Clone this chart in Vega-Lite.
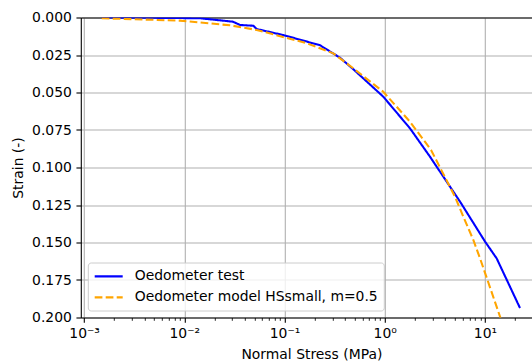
{
  "$schema": "https://vega.github.io/schema/vega-lite/v6.json",
  "width": 451.2,
  "height": 300,
  "autosize": {"type": "none"},
  "padding": {"left": 80.8, "top": 17.5, "right": 0, "bottom": 45.5},
  "background": "white",
  "config": {
    "view": {"stroke": null},
    "font": "DejaVu Sans",
    "axis": {
      "domainColor": "black",
      "domainWidth": 1.1,
      "tickColor": "black",
      "tickWidth": 1.1,
      "gridColor": "#b0b0b0",
      "gridWidth": 1.1,
      "labelColor": "black",
      "labelFont": "DejaVu Sans",
      "labelFontSize": 13.9,
      "titleColor": "black",
      "titleFont": "DejaVu Sans",
      "titleFontSize": 13.9,
      "titleFontWeight": "normal"
    }
  },
  "data": {
    "values": [
      {"series": "Oedometer test", "stress": 0.0015, "strain": 0.0},
      {"series": "Oedometer test", "stress": 0.005, "strain": 0.0002},
      {"series": "Oedometer test", "stress": 0.01436, "strain": 0.0005},
      {"series": "Oedometer test", "stress": 0.0306, "strain": 0.0028},
      {"series": "Oedometer test", "stress": 0.036, "strain": 0.005},
      {"series": "Oedometer test", "stress": 0.0489, "strain": 0.0055},
      {"series": "Oedometer test", "stress": 0.0528, "strain": 0.0077},
      {"series": "Oedometer test", "stress": 0.0973, "strain": 0.0117},
      {"series": "Oedometer test", "stress": 0.226, "strain": 0.0185},
      {"series": "Oedometer test", "stress": 0.358, "strain": 0.0268},
      {"series": "Oedometer test", "stress": 0.486, "strain": 0.0345},
      {"series": "Oedometer test", "stress": 0.968, "strain": 0.0528},
      {"series": "Oedometer test", "stress": 1.787, "strain": 0.0739},
      {"series": "Oedometer test", "stress": 2.83, "strain": 0.0928},
      {"series": "Oedometer test", "stress": 5.65, "strain": 0.1228},
      {"series": "Oedometer test", "stress": 10.03, "strain": 0.1494},
      {"series": "Oedometer test", "stress": 13.1, "strain": 0.1606},
      {"series": "Oedometer test", "stress": 22.4, "strain": 0.1937},
      {"series": "Oedometer model HSsmall, m=0.5", "stress": 0.0015, "strain": 0.0005},
      {"series": "Oedometer model HSsmall, m=0.5", "stress": 0.00906, "strain": 0.0021},
      {"series": "Oedometer model HSsmall, m=0.5", "stress": 0.0286, "strain": 0.0052},
      {"series": "Oedometer model HSsmall, m=0.5", "stress": 0.0528, "strain": 0.0083},
      {"series": "Oedometer model HSsmall, m=0.5", "stress": 0.0773, "strain": 0.0112},
      {"series": "Oedometer model HSsmall, m=0.5", "stress": 0.1668, "strain": 0.0172},
      {"series": "Oedometer model HSsmall, m=0.5", "stress": 0.307, "strain": 0.0239},
      {"series": "Oedometer model HSsmall, m=0.5", "stress": 0.486, "strain": 0.0339},
      {"series": "Oedometer model HSsmall, m=0.5", "stress": 0.968, "strain": 0.0495},
      {"series": "Oedometer model HSsmall, m=0.5", "stress": 1.787, "strain": 0.0695},
      {"series": "Oedometer model HSsmall, m=0.5", "stress": 2.9, "strain": 0.0883},
      {"series": "Oedometer model HSsmall, m=0.5", "stress": 5.03, "strain": 0.1195},
      {"series": "Oedometer model HSsmall, m=0.5", "stress": 6.09, "strain": 0.1328},
      {"series": "Oedometer model HSsmall, m=0.5", "stress": 7.66, "strain": 0.1483},
      {"series": "Oedometer model HSsmall, m=0.5", "stress": 8.93, "strain": 0.1605},
      {"series": "Oedometer model HSsmall, m=0.5", "stress": 14.2, "strain": 0.1997},
      {"series": "Oedometer model HSsmall, m=0.5", "stress": 15.85, "strain": 0.2092}
    ]
  },
  "layer": [
    {
      "mark": {"type": "point", "opacity": 0},
      "encoding": {
        "x": {
          "field": "stress",
          "type": "quantitative",
          "scale": {"type": "log", "domain": [0.000927, 29.5], "nice": false},
          "axis": {
            "orient": "top",
            "labels": false,
            "ticks": false,
            "grid": false,
            "domain": true,
            "title": null
          }
        }
      }
    },
    {
      "mark": {"type": "point", "opacity": 0},
      "encoding": {
        "x": {
          "field": "stress",
          "type": "quantitative",
          "scale": {"type": "log", "domain": [0.000927, 29.5], "nice": false},
          "axis": {
            "orient": "bottom",
            "values": [0.002, 0.003, 0.004, 0.005, 0.006, 0.007, 0.008, 0.009, 0.02, 0.03, 0.04, 0.05, 0.06, 0.07, 0.08, 0.09, 0.2, 0.3, 0.4, 0.5, 0.6, 0.7, 0.8, 0.9, 2, 3, 4, 5, 6, 7, 8, 9, 20],
            "labels": false,
            "grid": false,
            "domain": false,
            "tickSize": 2.8,
            "tickWidth": 0.85,
            "title": null
          }
        }
      }
    },
    {
      "mark": {"type": "line", "strokeWidth": 2.08, "clip": true},
      "encoding": {
        "x": {
          "field": "stress",
          "type": "quantitative",
          "scale": {"type": "log", "domain": [0.000927, 29.5], "nice": false},
          "axis": {
            "orient": "bottom",
            "values": [0.001, 0.01, 0.1, 1, 10],
            "labelExpr": "datum.value < 0.005 ? '10⁻³' : datum.value < 0.05 ? '10⁻²' : datum.value < 0.5 ? '10⁻¹' : datum.value < 5 ? '10⁰' : '10¹'",
            "tickSize": 4.86,
            "labelPadding": 4.5,
            "grid": true,
            "title": "Normal Stress (MPa)",
            "titleX": 230.6,
            "titlePadding": 7
          }
        },
        "y": {
          "field": "strain",
          "type": "quantitative",
          "scale": {"domain": [0, 0.2], "reverse": true, "nice": false},
          "axis": {
            "values": [0, 0.025, 0.05, 0.075, 0.1, 0.125, 0.15, 0.175, 0.2],
            "format": ".3f",
            "tickSize": 4.86,
            "labelPadding": 4.6,
            "grid": true,
            "title": "Strain (-)",
            "titlePadding": 6
          }
        },
        "color": {
          "field": "series",
          "type": "nominal",
          "scale": {"domain": ["Oedometer test", "Oedometer model HSsmall, m=0.5"], "range": ["#0000ff", "#ffa500"]},
          "legend": {
            "title": null,
            "orient": "bottom-left",
            "offset": 6.9,
            "padding": 5.4,
            "fillColor": "rgba(255,255,255,0.8)",
            "strokeColor": "#cccccc",
            "cornerRadius": 3,
            "symbolType": "M-1,0H3",
            "symbolSize": 196,
            "symbolStrokeWidth": 2.08,
            "labelOffset": 24.5,
            "labelFontSize": 13.9,
            "labelFont": "DejaVu Sans",
            "labelColor": "black",
            "rowPadding": 5,
            "labelLimit": 400
          }
        },
        "strokeDash": {
          "field": "series",
          "type": "nominal",
          "scale": {"domain": ["Oedometer test", "Oedometer model HSsmall, m=0.5"], "range": [[1, 0], [7.7, 3.3]]},
          "legend": {
            "title": null,
            "orient": "bottom-left",
            "offset": 6.9,
            "padding": 5.4,
            "fillColor": "rgba(255,255,255,0.8)",
            "strokeColor": "#cccccc",
            "cornerRadius": 3,
            "symbolType": "M-1,0H3",
            "symbolSize": 196,
            "symbolStrokeWidth": 2.08,
            "labelOffset": 24.5,
            "labelFontSize": 13.9,
            "labelFont": "DejaVu Sans",
            "labelColor": "black",
            "rowPadding": 5,
            "labelLimit": 400
          }
        }
      }
    }
  ],
  "resolve": {"axis": {"x": "independent"}}
}
